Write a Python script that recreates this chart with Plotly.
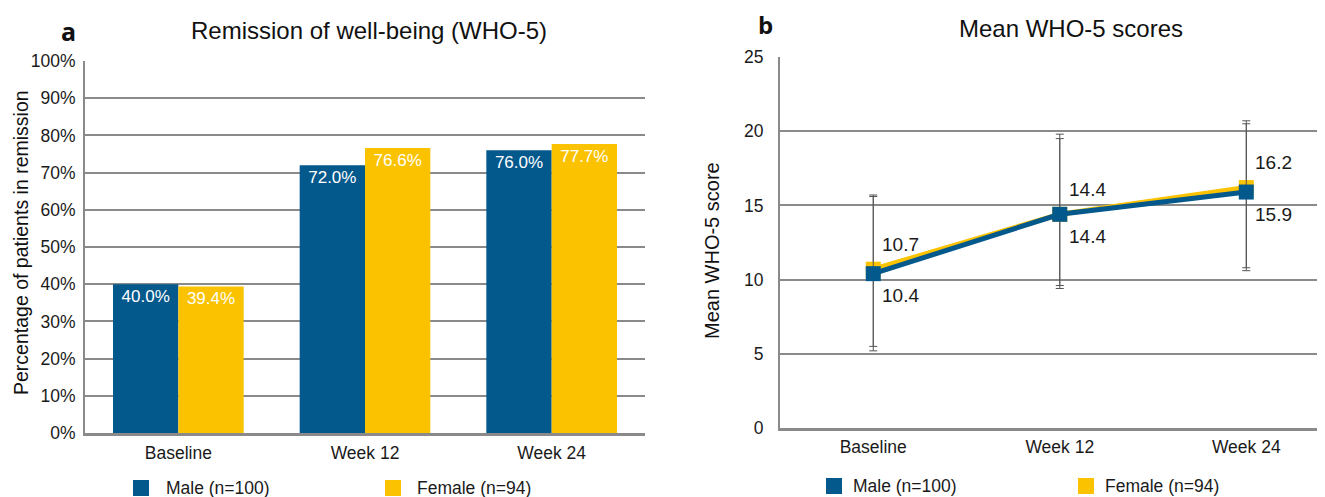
import plotly.graph_objects as go

categories = ["Baseline", "Week 12", "Week 24"]
series_names = ["Male (n=100)", "Female (n=94)"]

# Panel a: remission percentages
remission_male = [40.0, 72.0, 76.0]
remission_female = [39.4, 76.6, 77.7]

# Panel b: mean WHO-5 scores with error bar bounds
mean_male = [10.4, 14.4, 15.9]
mean_female = [10.7, 14.4, 16.2]
male_upper = [15.6, 19.5, 20.5]
male_lower = [5.2, 9.4, 10.6]
female_upper = [15.7, 19.8, 20.7]
female_lower = [5.5, 9.6, 10.8]

pct_ticks = [0, 10, 20, 30, 40, 50, 60, 70, 80, 90, 100]
score_ticks = [0, 5, 10, 15, 20, 25]

BLUE = "#03588C"
YELLOW = "#FBC200"
GRID = "#8a8a8a"
FONT = "Liberation Sans"

# page is rendered with an 8px body margin; work in page pixels
OFF = 8
W, H = 1325 - OFF, 497 - OFF
def px(x):
    return (x - OFF) / W
def py(y):
    return 1 - (y - OFF) / H

fig = go.Figure()

fig.add_trace(go.Bar(
    x=categories, y=remission_male, name=series_names[0],
    marker=dict(color=BLUE, line=dict(width=0)),
    text=[f"{v:.1f}%" for v in remission_male], textposition="inside",
    insidetextanchor="end", textangle=0,
    textfont=dict(color="white", size=17, family=FONT),
    xaxis="x", yaxis="y", showlegend=False,
))
fig.add_trace(go.Bar(
    x=categories, y=remission_female, name=series_names[1],
    marker=dict(color=YELLOW, line=dict(width=0)),
    text=[f"{v:.1f}%" for v in remission_female], textposition="inside",
    insidetextanchor="end", textangle=0,
    textfont=dict(color="white", size=17, family=FONT),
    xaxis="x", yaxis="y", showlegend=False,
))

def err(mean, up, lo):
    return dict(type="data", symmetric=False,
                array=[u - m for u, m in zip(up, mean)],
                arrayminus=[m - l for m, l in zip(mean, lo)],
                color="#555555", thickness=1, width=4)

fig.add_trace(go.Scatter(
    x=categories, y=mean_female, name=series_names[1], mode="lines+markers",
    line=dict(color=YELLOW, width=5),
    marker=dict(symbol="square", size=15, color=YELLOW),
    error_y=err(mean_female, female_upper, female_lower),
    xaxis="x2", yaxis="y2", showlegend=False, cliponaxis=False,
))
fig.add_trace(go.Scatter(
    x=categories, y=mean_male, name=series_names[0], mode="lines+markers",
    line=dict(color=BLUE, width=5),
    marker=dict(symbol="square", size=15, color=BLUE),
    error_y=err(mean_male, male_upper, male_lower),
    xaxis="x2", yaxis="y2", showlegend=False, cliponaxis=False,
))

axis_common = dict(showline=True, linecolor=GRID, ticks="", zeroline=False,
                   automargin=False,
                   tickfont=dict(size=17.5, color="#1a1a1a", family=FONT))

fig.update_layout(
    template="none",
    width=W, height=H,
    margin=dict(l=0, r=0, t=0, b=0, pad=0),
    paper_bgcolor="white", plot_bgcolor="white",
    font=dict(family=FONT, color="#1a1a1a"),
    barmode="group", bargap=0.3, bargroupgap=0,
    xaxis=dict(domain=[px(85), px(645)], anchor="y", linewidth=3,
               showgrid=False, ticklabelstandoff=2, **axis_common),
    yaxis=dict(domain=[py(433), py(61)], anchor="x", range=[0, 100],
               tickvals=pct_ticks, ticktext=[f"{v}%" for v in pct_ticks],
               linewidth=2, showgrid=True, gridcolor=GRID, gridwidth=1.5,
               ticklabelstandoff=4, **axis_common),
    xaxis2=dict(domain=[px(780), 1.0], anchor="y2", linewidth=3,
                range=[-0.5, 2.422], showgrid=False, ticklabelstandoff=1,
                **axis_common),
    yaxis2=dict(domain=[py(428), py(57)], anchor="x2", range=[0, 25],
                tickvals=score_ticks, linewidth=2,
                showgrid=True, gridcolor=GRID, gridwidth=1.5,
                ticklabelstandoff=11, **axis_common),
)

annotations = [
    dict(text="<b>a</b>", x=px(68), y=py(31), font=dict(size=25, family="Open Sans", color="#111")),
    dict(text="Remission of well-being (WHO-5)", x=px(369), y=py(31), font=dict(size=24, family=FONT, color="#111")),
    dict(text="<b>b</b>", x=px(765), y=py(25), font=dict(size=24, family="Open Sans", color="#111")),
    dict(text="Mean WHO-5 scores", x=px(1071), y=py(28), font=dict(size=24, family=FONT, color="#111")),
    dict(text="Percentage of patients in remission", x=px(21), y=py(243), textangle=-90,
         font=dict(size=19.5, family=FONT, color="#111")),
    dict(text="Mean WHO-5 score", x=px(712), y=py(251), textangle=-90,
         font=dict(size=20, family=FONT, color="#111")),
]

# data labels for panel b, placed through the axes at each point
for cat, v in zip(categories, mean_female):
    annotations.append(dict(text=f"{v:.1f}", x=cat, y=v, xref="x2", yref="y2",
                            xanchor="left", yanchor="middle", xshift=7, yshift=25,
                            font=dict(size=19, family=FONT, color="#1a1a1a")))
for cat, v in zip(categories, mean_male):
    annotations.append(dict(text=f"{v:.1f}", x=cat, y=v, xref="x2", yref="y2",
                            xanchor="left", yanchor="middle", xshift=7, yshift=-22,
                            font=dict(size=19, family=FONT, color="#1a1a1a")))

shapes = []
legend_items = [
    (133, 488, BLUE, series_names[0], 164),
    (385, 488, YELLOW, series_names[1], 415),
    (826, 486, BLUE, series_names[0], 851),
    (1078, 486, YELLOW, series_names[1], 1103),
]
for sx, cy, col, label, tx in legend_items:
    shapes.append(dict(type="rect", xref="paper", yref="paper",
                       x0=px(sx), x1=px(sx + 16), y0=py(cy + 8), y1=py(cy - 8),
                       fillcolor=col, line=dict(width=0)))
    annotations.append(dict(text=label, x=px(tx), y=py(cy), xanchor="left",
                            font=dict(size=17.5, family=FONT, color="#1a1a1a")))

for a in annotations:
    a.setdefault("xref", "paper")
    a.setdefault("yref", "paper")
    a.setdefault("showarrow", False)
    a.setdefault("xanchor", "center")
    a.setdefault("yanchor", "middle")

fig.update_layout(annotations=annotations, shapes=shapes)

fig.write_html("out.html")
